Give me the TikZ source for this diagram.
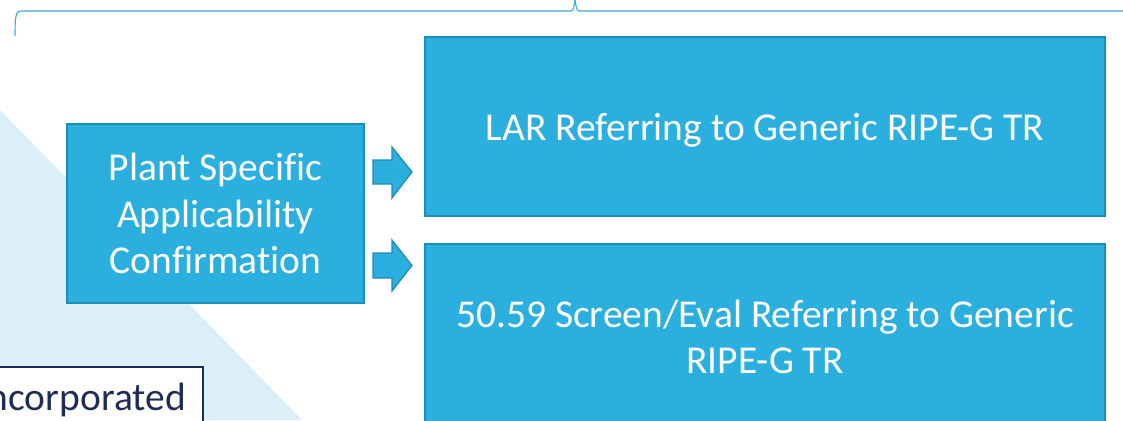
\documentclass[tikz,border=0pt]{standalone}
\usepackage{fontspec}
\setmainfont{Carlito}[Ligatures={NoCommon}]
\definecolor{boxfill}{HTML}{2BAFDF}
\definecolor{boxline}{HTML}{1A8DB8}
\definecolor{bgtri}{HTML}{DAEFF7}
\definecolor{bracecol}{HTML}{3AA9D6}
\definecolor{navy}{HTML}{1F2D55}
\tikzset{
  bluebox/.style={draw=boxline, line width=1.4pt, fill=boxfill, text=white, align=center,
    font=\fontsize{39.5}{46.5}\selectfont, inner sep=0pt},
  blockarrow/.style={draw=boxline, line width=1.2pt, fill=boxfill, line join=miter},
  bracestyle/.style={draw=bracecol, line width=1.1pt},
  notebox/.style={draw=navy, line width=1.3pt, fill=white},
}
\begin{document}
\begin{tikzpicture}[x=1pt,y=-1pt]
\useasboundingbox (0,0) rectangle (1123,420);
\clip (0,0) rectangle (1123,420);
% background triangle
\fill[bgtri] (0,110) -- (302,420) -- (0,420) -- cycle;
% brace
\draw[bracestyle] (15,36) .. controls (15,15) and (16,11) .. (21,11) -- (571,11)
  .. controls (574,11) and (574,4) .. (575,0)
  .. controls (576,4) and (576,11) .. (579,11) -- (1123,11);
% boxes
\node[bluebox, minimum width=297pt, minimum height=179pt] (plant) at (215.5,213.5)
  {Plant Specific\\Applicability\\Confirmation};
\node[bluebox, minimum width=680pt, minimum height=179pt, text depth=0pt] (lar) at (765,126.5)
  {LAR Referring to Generic RIPE-G TR};
\node[bluebox, minimum width=680pt, minimum height=186pt] (screen) at (765,337)
  {50.59 Screen/Eval Referring to Generic\\RIPE-G TR};
% block arrows
\draw[blockarrow] (373,160) -- (392,160) -- (392,147) -- (412,172) -- (392,198) -- (392,184) -- (373,184) -- cycle;
\draw[blockarrow] (373,253) -- (392,253) -- (392,240) -- (412,265.5) -- (392,291) -- (392,278) -- (373,278) -- cycle;
% note box
\draw[notebox] (-10,367) rectangle (203,440);
\node[anchor=base east, text=navy, font=\fontsize{39.5}{47}\selectfont, inner sep=0pt] (note) at (186,410) {ncorporated};
\end{tikzpicture}
\end{document}
